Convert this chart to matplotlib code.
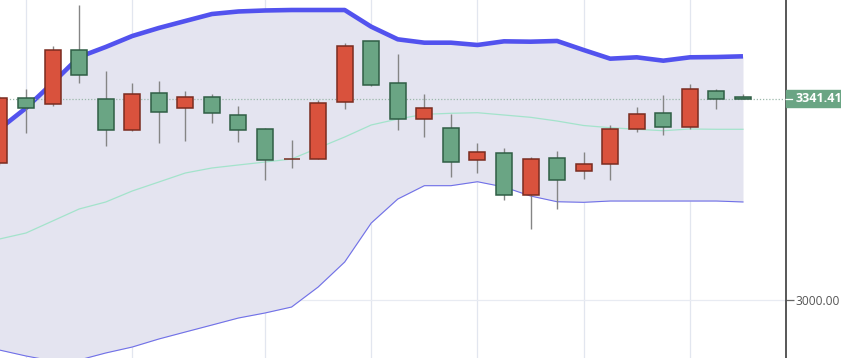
import numpy as np
import matplotlib
matplotlib.use("Agg")
import matplotlib.pyplot as plt
from matplotlib.patches import Rectangle
import matplotlib.transforms as mtransforms

# daily candles (red = up, green = down)
opens = [3231.7, 3342.9, 3332.8, 3423.8, 3340.2, 3287.7, 3350.9, 3325.0, 3344.6, 3314.1,
         3289.9, 3238.5, 3239.0, 3336.2, 3438.5, 3367.4, 3306.8, 3291.1, 3237.3, 3249.2,
         3177.5, 3241.2, 3218.2, 3231.1, 3289.4, 3317.0, 3293.3, 3354.8, 3344.6]
highs = [3345.8, 3358.2, 3430.6, 3500.6, 3388.2, 3367.9, 3371.3, 3353.8, 3349.7, 3329.4,
         3291.6, 3270.7, 3339.1, 3436.2, 3439.4, 3416.5, 3348.7, 3315.8, 3265.6, 3257.7,
         3241.9, 3252.6, 3251.4, 3296.2, 3326.7, 3347.0, 3365.7, 3358.2, 3349.7]
lows = [3228.9, 3283.6, 3328.9, 3368.4, 3261.6, 3286.5, 3266.7, 3270.0, 3299.5, 3267.3,
        3202.9, 3224.3, 3238.2, 3324.3, 3362.3, 3288.7, 3276.3, 3208.0, 3215.8, 3169.0,
        3120.4, 3154.3, 3205.6, 3203.9, 3285.3, 3280.2, 3289.9, 3324.3, 3341.0]
closes = [3342.9, 3325.0, 3423.8, 3381.4, 3287.7, 3349.2, 3318.7, 3344.6, 3316.5, 3287.7,
          3237.3, 3239.5, 3333.5, 3430.6, 3364.0, 3306.3, 3325.5, 3233.9, 3250.4, 3177.5,
          3239.0, 3203.4, 3230.0, 3289.9, 3315.8, 3293.8, 3358.2, 3341.2, 3341.41]

# bollinger bands
upper = [3289.9, 3325.5, 3367.9, 3411.9, 3428.9, 3447.5, 3461.1, 3473.0, 3484.8, 3489.1,
         3490.8, 3491.6, 3491.6, 3491.6, 3463.3, 3441.9, 3436.2, 3436.2, 3432.3, 3438.5,
         3437.9, 3439.1, 3423.8, 3409.1, 3411.4, 3405.7, 3411.4, 3411.9, 3413.1]
middle = [3103.4, 3113.6, 3133.9, 3154.3, 3166.1, 3184.8, 3200.0, 3215.3, 3223.8, 3228.9,
          3233.9, 3239.0, 3257.7, 3276.3, 3296.7, 3306.8, 3314.8, 3316.5, 3317.5, 3313.6,
          3309.7, 3303.4, 3295.8, 3292.1, 3289.4, 3287.0, 3289.9, 3289.4, 3289.4]
lower = [2915.2, 2905.1, 2896.6, 2898.3, 2910.2, 2920.3, 2933.9, 2945.8, 2957.6, 2969.5,
         2978.0, 2988.1, 3022.0, 3064.4, 3130.5, 3171.2, 3193.8, 3193.8, 3200.5, 3191.6,
         3176.3, 3166.6, 3165.6, 3167.8, 3167.8, 3167.8, 3167.8, 3167.8, 3166.2]

last_price = 3341.41
grid_idx = [1, 5, 10, 14, 18, 22, 26]
ytick_vals = [3000]
ytick_labels = ["3000.00"]

W, H = 841, 358
fig = plt.figure(figsize=(W / 100, H / 100), dpi=100)
ax = fig.add_axes([0, 0, 786 / W, 1])

x = np.arange(len(opens))

for g in grid_idx:
    ax.axvline(g, color="#e2e6ef", lw=0.9, zorder=0)
for v in ytick_vals:
    ax.axhline(v, color="#e8ebf2", lw=0.9, zorder=0)

ax.fill_between(x, lower, upper, color="#e4e4f0", lw=0, zorder=1)
ax.plot(x, middle, color="#a3e3cb", lw=0.9, zorder=2)
ax.plot(x, lower, color="#7070e8", lw=0.8, zorder=2)
ax.plot(x, upper, color="#5252ee", lw=3.3, solid_capstyle="butt", zorder=2)

ax.axhline(last_price, color="#9cb8ab", lw=0.9, ls=(0, (1, 1.5)), zorder=3)

# candles
for i in range(len(opens)):
    up = closes[i] >= opens[i]
    face = "#d9523d" if up else "#6aa584"
    edge = "#7a2c20" if up else "#2f5e45"
    ax.vlines(x[i], lows[i], highs[i], color="#858585", lw=1.0, zorder=4)
    bottom = min(opens[i], closes[i])
    height = max(abs(closes[i] - opens[i]), 0.8)
    ax.bar(x[i], height, bottom=bottom, width=0.6, color=face, edgecolor=edge,
           linewidth=1.1, zorder=5)

ax.set_xlim(0.02, 29.62)
ax.set_ylim(2901.7, 3508.56)

for s in ["top", "left", "bottom"]:
    ax.spines[s].set_visible(False)
ax.spines["right"].set_color("#4a4a4a")
ax.spines["right"].set_linewidth(1.3)
ax.set_xticks([])
ax.yaxis.tick_right()
ax.set_yticks(ytick_vals)
ax.set_yticklabels(ytick_labels, family="Open Sans")
ax.tick_params(axis="y", length=6, width=0.9, color="#666666", pad=0.8,
               labelsize=8.6, labelcolor="#555555")

# last price label on the axis
trans = mtransforms.blended_transform_factory(ax.transAxes, ax.transData)
box_h = 17 * 1.6952
ax.add_patch(Rectangle((1.0, last_price - box_h / 2), (W - 786) / 786, box_h,
                       transform=trans, color="#6aa584", clip_on=False, zorder=6))
ax.plot([1.0, 1.0 + 6 / 786], [last_price, last_price], transform=trans,
        color="white", lw=0.9, clip_on=False, zorder=7)
ax.text(1.0 + 9.5 / 786, last_price, "3341.410", transform=trans, color="white",
        family="Open Sans", fontsize=9, fontweight="bold", va="center", ha="left",
        clip_on=False, zorder=7)

fig.savefig("out.png", dpi=100)
